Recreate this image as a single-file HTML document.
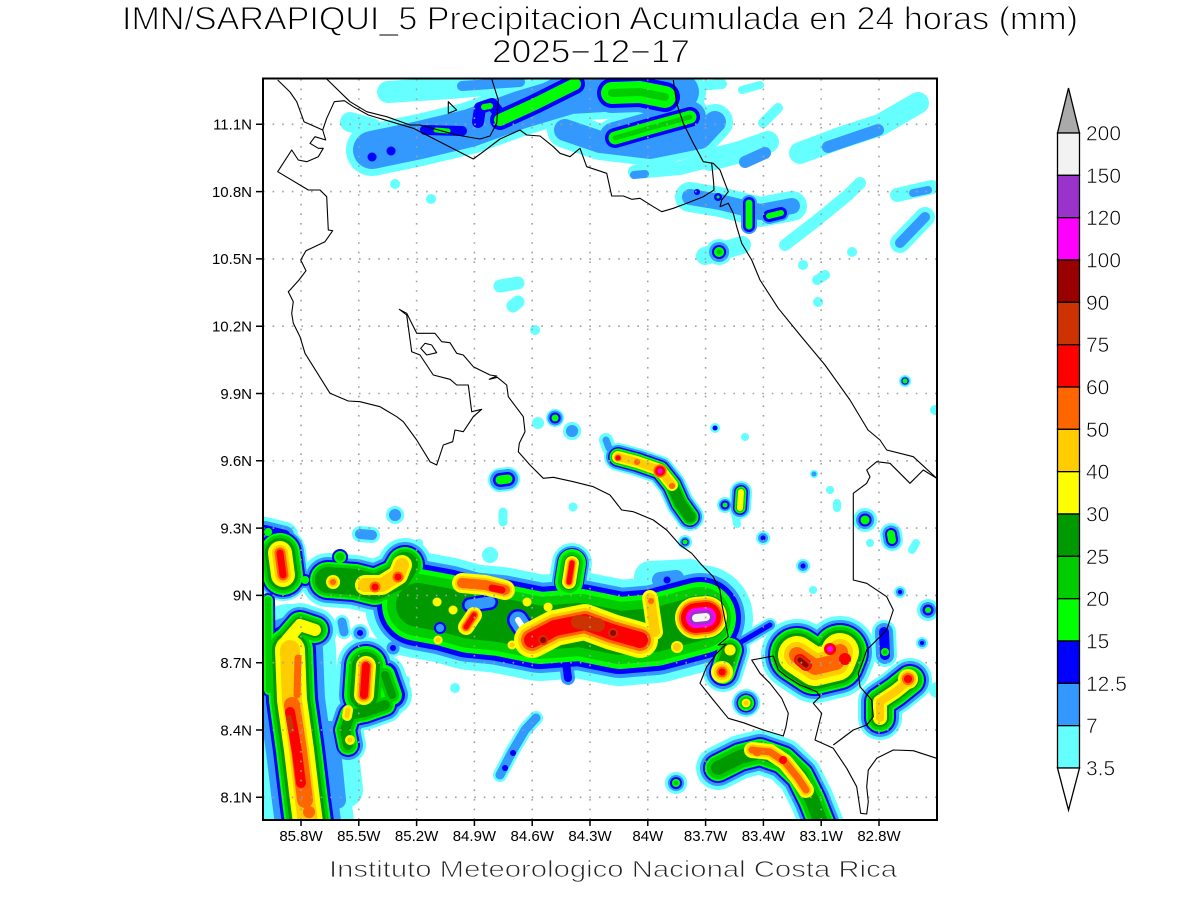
<!DOCTYPE html>
<html><head><meta charset="utf-8"><style>
html,body{margin:0;padding:0;background:#fff;}
svg{display:block;font-family:"Liberation Sans",sans-serif;}
</style></head><body>
<svg width="1200" height="900" viewBox="0 0 1200 900" xmlns="http://www.w3.org/2000/svg">
<rect width="1200" height="900" fill="#fff"/>
<defs>
<clipPath id="cp"><rect x="263" y="79" width="674" height="741"/></clipPath>
<path id="n1" d="M372 150L420 140L470 128L520 110L570 95L620 92L680 92"/>
<path id="n2" d="M388 92L450 88L505 83"/>
<path id="n3" d="M462 86L520 82"/>
<path id="n4" d="M350 122L372 128"/>
<path id="n5" d="M372 157h.1M391 151h.1"/>
<path id="n6" d="M478 122L480 108L492 104L498 112"/>
<path id="n6g" d="M484 107L490 106"/>
<path id="n7" d="M425 130L462 131"/>
<path id="n7g" d="M436 130L448 131"/>
<path id="n8" d="M500 120L535 104L575 84"/>
<path id="n9" d="M612 93L640 92L665 97"/>
<path id="n10" d="M615 138L650 128L690 117"/>
<path id="n11" d="M565 130L600 142L650 148L700 138L715 122"/>
<path id="n12" d="M698 86L722 84"/>
<path id="n13" d="M742 90L760 85"/>
<path id="s1" d="M635 172L680 168L720 158L745 152"/>
<path id="s1b" d="M634 175L645 174"/>
<path id="s2" d="M710 160L740 152L768 142"/>
<path id="s2b" d="M745 162L765 153"/>
<path id="s3" d="M763 123L778 108"/>
<path id="s4" d="M800 153L840 138L880 125L918 103"/>
<path id="s4b" d="M828 147L878 130"/>
<path id="s5" d="M785 245L815 222L848 195L860 183"/>
<path id="s6" d="M690 197L720 202L760 212L792 206"/>
<path id="s6c1" d="M697 192h.1"/>
<path id="s6c2" d="M718 197h.1"/>
<path id="s7" d="M749 203L749 226"/>
<path id="s8" d="M769 216L781 213"/>
<path id="s9" d="M719 252h.1"/>
<path id="s9b" d="M705 256L742 245"/>
<path id="s10" d="M897 195L932 187"/>
<path id="s10b" d="M913 193L928 190"/>
<path id="s11" d="M900 243L925 217"/>
<path id="sm" d="M852 252h.1M817 280L825 275M818 302h.1M803 265h.1M395 184h.1M431 199h.1M535 330h.1"/>
<path id="sm2" d="M500 286L518 283M513 306L518 302"/>
<path id="c1" d="M555 418h.1"/>
<path id="c2" d="M538 423h.1"/>
<path id="c3" d="M572 431h.1"/>
<path id="c4" d="M606 440L609 448"/>
<path id="c5" d="M500 480L508 479"/>
<path id="c6" d="M395 515h.1"/>
<path id="c7" d="M503 512L503 522M573 507h.1"/>
<path id="c8" d="M715 428h.1"/>
<path id="c9" d="M745 437h.1M830 490h.1M837 503L837 508M912 550L916 543M870 543h.1M813 590h.1M419 543h.1M406 680h.1"/>
<path id="c10" d="M905 381h.1"/>
<path id="c11" d="M935 410h.1"/>
<path id="c12" d="M814 474h.1"/>
<path id="c21" d="M900 592h.1M922 643h.1"/>
<path id="ch" d="M618 457L637 462L660 470L672 485L680 503L690 517"/>
<path id="chy" d="M618 457L637 462L660 470L672 485"/>
<path id="chr" d="M618 458h.1"/>
<path id="cho" d="M637 462h.1M672 486h.1"/>
<path id="chm" d="M660 471h.1"/>
<path id="c13" d="M741 492L740 508"/>
<path id="c13b" d="M725 505h.1"/>
<path id="c13c" d="M735 512L737 524"/>
<path id="c14" d="M685 542h.1"/>
<path id="c15" d="M650 577L690 575"/>
<path id="c15b" d="M660 580L676 578"/>
<path id="c15c" d="M667 580h.1"/>
<path id="c16" d="M763 538h.1M803 566h.1"/>
<path id="c18" d="M865 520h.1"/>
<path id="c19" d="M891 534L892 540"/>
<path id="c20" d="M928 610h.1"/>
<path id="c22" d="M884 632L885 655"/>
<path id="c22g" d="M885 652h.1"/>
<path id="w0" d="M265 530L285 535"/>
<path id="w0g" d="M268 532h.1"/>
<path id="w0c" d="M360 534L372 535"/>
<path id="w1" d="M280 553L283 575"/>
<path id="w1c" d="M305 580h.1"/>
<path id="w1b" d="M328 580L355 582L375 587L398 577L405 565"/>
<path id="w1y" d="M365 585L382 585L398 575L402 565"/>
<path id="w1y2" d="M333 582h.1"/>
<path id="w1r" d="M375 587h.1M398 577h.1"/>
<path id="w1t" d="M340 557h.1"/>
<path id="w2a" d="M315 630L300 625L287 640"/>
<path id="w2b" d="M290 650L292 700L299 750L305 800L309 830"/>
<path id="w2e" d="M268 600L269 690"/>
<path id="w2l" d="M292 705L299 750L305 800"/>
<path id="w2r" d="M290 712L297 752L301 783"/>
<path id="w2d" d="M289 718L291 730"/>
<path id="w2o" d="M298 658L297 695"/>
<path id="w2o2" d="M309 812h.1"/>
<path id="w3" d="M366 666L364 695"/>
<path id="w3e" d="M385 675L392 695"/>
<path id="w3b" d="M385 705L365 712L350 715L345 730L348 745"/>
<path id="w3y" d="M348 710L347 716M350 740h.1"/>
<path id="wc" d="M335 700L345 790"/>
<path id="wcb" d="M330 730L337 800"/>
<path id="wd1" d="M342 622L344 632"/>
<path id="wd2" d="M360 633h.1M393 648h.1"/>
<path id="wcy" d="M455 688h.1M345 775h.1"/>
<path id="m1" d="M418 605L445 610L470 617L500 620L540 628L580 625L620 633L655 630L685 622L700 618"/>
<path id="m1c" d="M490 555h.1"/>
<path id="h1" d="M470 605L490 602"/>
<path id="h2" d="M518 620L522 626"/>
<path id="h3" d="M440 628h.1"/>
<path id="h5" d="M822 669h.1"/>
<path id="y1" d="M532 640L555 628L585 622L612 632L640 640"/>
<path id="y1c" d="M578 622L598 625"/>
<path id="y1d" d="M613 633h.1M543 640h.1"/>
<path id="y2" d="M462 583L485 585L505 590"/>
<path id="y2r" d="M492 588L502 590"/>
<path id="y3" d="M569 582L572 563"/>
<path id="y4" d="M466 627L474 615"/>
<path id="y5" d="M650 598L655 632"/>
<path id="y5o" d="M651 601h.1"/>
<path id="y6" d="M437 602h.1M453 610h.1M438 640h.1M512 645h.1M548 607h.1M527 602h.1"/>
<path id="y6b" d="M438 640h.1M512 645h.1"/>
<path id="y7" d="M677 647h.1"/>
<path id="P" d="M696 618L706 617"/>
<path id="tg" d="M565 655L568 678"/>
<path id="R3" d="M730 650L723 672"/>
<path id="R3y" d="M722 672h.1"/>
<path id="R3y2" d="M730 650h.1"/>
<path id="R4" d="M746 703h.1"/>
<path id="R5" d="M736 645L770 625"/>
<path id="R1" d="M797 655L815 667L836 662L840 652"/>
<path id="R1r" d="M800 660L806 665M845 659h.1M830 649h.1"/>
<path id="R1d" d="M800 660L806 665"/>
<path id="R1m" d="M830 649h.1"/>
<path id="R2" d="M910 680L895 692L880 702L880 718"/>
<path id="R2r" d="M908 679h.1"/>
<path id="R2e" d="M937 690h.1"/>
<path id="b1" d="M718 768L740 757L760 752L783 760L800 776L812 800L822 825"/>
<path id="b1y" d="M752 750L770 752L785 762L798 778L806 790"/>
<path id="b1r" d="M783 760h.1"/>
<path id="b1o" d="M757 752h.1"/>
<path id="b2" d="M676 783h.1"/>
<path id="l1" d="M500 775L512 752L525 730L536 718"/>
<path id="l1b" d="M505 768h.1M513 753h.1"/>
</defs>

<g clip-path="url(#cp)" fill="none" stroke-linecap="round" stroke-linejoin="round">
<!-- L0 cyan -->
<g stroke="#66ffff">
<use href="#n1" stroke-width="52"/><use href="#n2" stroke-width="22"/><use href="#n3" stroke-width="16"/><use href="#n4" stroke-width="20"/>
<use href="#n10" stroke-width="40"/><use href="#n11" stroke-width="36"/><use href="#n12" stroke-width="10"/><use href="#n13" stroke-width="8"/>
<use href="#s1" stroke-width="14"/><use href="#s2" stroke-width="22"/><use href="#s3" stroke-width="10"/><use href="#s4" stroke-width="22"/>
<use href="#s5" stroke-width="12"/><use href="#s6" stroke-width="30"/><use href="#s9" stroke-width="26"/><use href="#s9b" stroke-width="18"/>
<use href="#s10" stroke-width="14"/><use href="#s11" stroke-width="20"/><use href="#sm" stroke-width="10"/><use href="#sm2" stroke-width="13"/>
<use href="#c1" stroke-width="18"/><use href="#c2" stroke-width="12"/><use href="#c3" stroke-width="18"/><use href="#c4" stroke-width="14"/>
<use href="#c5" stroke-width="24"/><use href="#c6" stroke-width="18"/><use href="#c7" stroke-width="9"/><use href="#c8" stroke-width="10"/>
<use href="#c9" stroke-width="8"/><use href="#c10" stroke-width="12"/><use href="#c11" stroke-width="10"/><use href="#c12" stroke-width="8"/>
<use href="#c21" stroke-width="12"/><use href="#ch" stroke-width="28"/><use href="#c13" stroke-width="22"/><use href="#c13b" stroke-width="16"/>
<use href="#c13c" stroke-width="8"/><use href="#c14" stroke-width="14"/><use href="#c15" stroke-width="32"/><use href="#c16" stroke-width="14"/>
<use href="#c18" stroke-width="24"/><use href="#c19" stroke-width="22"/><use href="#c20" stroke-width="22"/><use href="#c22" stroke-width="24"/>
<use href="#w0" stroke-width="26"/><use href="#w0c" stroke-width="16"/><use href="#w1" stroke-width="52"/><use href="#w1b" stroke-width="54"/>
<use href="#w2a" stroke-width="44"/><use href="#w2b" stroke-width="92"/><use href="#w3" stroke-width="58"/><use href="#w3e" stroke-width="40"/>
<use href="#w3b" stroke-width="36"/><use href="#wc" stroke-width="36"/><use href="#wd1" stroke-width="14"/><use href="#wd2" stroke-width="18"/>
<use href="#wcy" stroke-width="10"/><use href="#m1" stroke-width="106"/><use href="#m1c" stroke-width="16"/><use href="#y3" stroke-width="40"/>
<use href="#P" stroke-width="70"/><use href="#R3" stroke-width="40"/><use href="#R4" stroke-width="28"/><use href="#R5" stroke-width="14"/>
<use href="#R1" stroke-width="72"/><use href="#R2" stroke-width="44"/><use href="#R2e" stroke-width="16"/><use href="#b1" stroke-width="44"/>
<use href="#b2" stroke-width="22"/><use href="#l1" stroke-width="14"/>
</g>
<!-- L1 light blue -->
<g stroke="#3399ff">
<use href="#n1" stroke-width="38"/><use href="#n3" stroke-width="10"/><use href="#n7" stroke-width="16"/><use href="#n8" stroke-width="30"/>
<use href="#n9" stroke-width="40"/><use href="#n10" stroke-width="32"/><use href="#n11" stroke-width="22"/><use href="#s1b" stroke-width="8"/>
<use href="#s2b" stroke-width="12"/><use href="#s4b" stroke-width="12"/><use href="#s6" stroke-width="16"/><use href="#s7" stroke-width="16"/>
<use href="#s8" stroke-width="16"/><use href="#s9" stroke-width="20"/><use href="#s10b" stroke-width="8"/><use href="#s11" stroke-width="10"/>
<use href="#c1" stroke-width="15"/><use href="#c3" stroke-width="12"/><use href="#c4" stroke-width="7"/><use href="#c5" stroke-width="20"/>
<use href="#c6" stroke-width="12"/><use href="#c10" stroke-width="9"/><use href="#c12" stroke-width="5"/><use href="#c21" stroke-width="8"/>
<use href="#ch" stroke-width="24"/><use href="#c13" stroke-width="18"/><use href="#c13b" stroke-width="12"/><use href="#c14" stroke-width="10"/>
<use href="#c15b" stroke-width="16"/><use href="#c16" stroke-width="10"/><use href="#c18" stroke-width="18"/><use href="#c19" stroke-width="17"/>
<use href="#c20" stroke-width="16"/><use href="#c22" stroke-width="18"/>
<use href="#w0" stroke-width="18"/><use href="#w0c" stroke-width="10"/><use href="#w1" stroke-width="48"/><use href="#w1c" stroke-width="16"/>
<use href="#w1b" stroke-width="46"/><use href="#w2a" stroke-width="36"/><use href="#w2b" stroke-width="66"/><use href="#w3" stroke-width="50"/>
<use href="#w3e" stroke-width="32"/><use href="#w3b" stroke-width="30"/><use href="#wcb" stroke-width="18"/><use href="#wd1" stroke-width="9"/>
<use href="#wd2" stroke-width="13"/><use href="#m1" stroke-width="90"/><use href="#y3" stroke-width="34"/><use href="#tg" stroke-width="14"/>
<use href="#P" stroke-width="62"/><use href="#R3" stroke-width="34"/><use href="#R4" stroke-width="24"/><use href="#R5" stroke-width="10"/>
<use href="#R1" stroke-width="64"/><use href="#R2" stroke-width="38"/><use href="#b1" stroke-width="36"/><use href="#b2" stroke-width="16"/>
<use href="#l1" stroke-width="9"/>
</g>
<!-- L2 blue -->
<g stroke="#0000ff">
<use href="#n5" stroke-width="9"/><use href="#n6" stroke-width="12"/><use href="#n7" stroke-width="10"/><use href="#n8" stroke-width="20"/>
<use href="#n9" stroke-width="30"/><use href="#n10" stroke-width="20"/><use href="#s6c1" stroke-width="6"/><use href="#s6c2" stroke-width="8"/>
<use href="#s7" stroke-width="12"/><use href="#s8" stroke-width="12"/><use href="#s9" stroke-width="14"/>
<use href="#c1" stroke-width="11"/><use href="#c5" stroke-width="14"/><use href="#c8" stroke-width="5"/><use href="#c10" stroke-width="7"/>
<use href="#c21" stroke-width="4"/><use href="#ch" stroke-width="20"/><use href="#c13" stroke-width="14"/><use href="#c13b" stroke-width="9"/>
<use href="#c14" stroke-width="7"/><use href="#c15c" stroke-width="7"/><use href="#c16" stroke-width="5"/><use href="#c18" stroke-width="13"/>
<use href="#c19" stroke-width="12"/><use href="#c20" stroke-width="11"/><use href="#c22" stroke-width="10"/>
<use href="#w0" stroke-width="10"/><use href="#w1" stroke-width="44"/><use href="#w1c" stroke-width="12"/><use href="#w1b" stroke-width="40"/>
<use href="#w1t" stroke-width="16"/><use href="#w2a" stroke-width="30"/><use href="#w2b" stroke-width="52"/><use href="#w2e" stroke-width="14"/><use href="#w3" stroke-width="44"/>
<use href="#w3e" stroke-width="26"/><use href="#w3b" stroke-width="24"/><use href="#wd2" stroke-width="6"/><use href="#m1" stroke-width="82"/>
<use href="#y3" stroke-width="30"/><use href="#tg" stroke-width="8"/><use href="#P" stroke-width="56"/><use href="#R3" stroke-width="28"/>
<use href="#R4" stroke-width="19"/><use href="#R5" stroke-width="5"/><use href="#R1" stroke-width="58"/><use href="#R2" stroke-width="32"/>
<use href="#b1" stroke-width="30"/><use href="#b2" stroke-width="12"/><use href="#l1b" stroke-width="6"/>
</g>
<!-- L3 lime -->
<g stroke="#00ff00">
<use href="#n6g" stroke-width="6"/><use href="#n7g" stroke-width="5"/><use href="#n8" stroke-width="12"/><use href="#n9" stroke-width="22"/>
<use href="#n10" stroke-width="13"/><use href="#s6c2" stroke-width="3"/><use href="#s7" stroke-width="7"/><use href="#s8" stroke-width="6"/>
<use href="#s9" stroke-width="10"/><use href="#c1" stroke-width="7"/><use href="#c5" stroke-width="9"/><use href="#c10" stroke-width="5"/>
<use href="#ch" stroke-width="17"/><use href="#c13" stroke-width="11"/><use href="#c13b" stroke-width="5"/><use href="#c14" stroke-width="5"/>
<use href="#c18" stroke-width="9"/><use href="#c19" stroke-width="8"/><use href="#c20" stroke-width="6"/><use href="#c22g" stroke-width="8"/>
<use href="#w0g" stroke-width="8"/><use href="#w1" stroke-width="40"/><use href="#w1c" stroke-width="8"/><use href="#w1b" stroke-width="36"/>
<use href="#w1t" stroke-width="12"/><use href="#w2a" stroke-width="26"/><use href="#w2b" stroke-width="46"/><use href="#w2e" stroke-width="10"/><use href="#w3" stroke-width="40"/>
<use href="#w3e" stroke-width="20"/><use href="#w3b" stroke-width="20"/><use href="#m1" stroke-width="72"/><use href="#y3" stroke-width="28"/>
<use href="#P" stroke-width="52"/><use href="#R3" stroke-width="24"/><use href="#R4" stroke-width="16"/><use href="#R1" stroke-width="54"/>
<use href="#R2" stroke-width="28"/><use href="#b1" stroke-width="26"/><use href="#b2" stroke-width="8"/>
</g>
<!-- L4 green -->
<g stroke="#00cc00">
<use href="#n9" stroke-width="8"/><use href="#n10" stroke-width="5"/><use href="#s9" stroke-width="5"/><use href="#ch" stroke-width="14"/>
<use href="#c13" stroke-width="8"/><use href="#c22g" stroke-width="4"/><use href="#w1" stroke-width="36"/><use href="#w1t" stroke-width="8"/>
<use href="#w1b" stroke-width="32"/><use href="#w2a" stroke-width="22"/><use href="#w2b" stroke-width="42"/><use href="#w2e" stroke-width="6"/><use href="#w3" stroke-width="34"/>
<use href="#w3e" stroke-width="14"/><use href="#w3b" stroke-width="16"/><use href="#m1" stroke-width="62"/><use href="#y3" stroke-width="22"/>
<use href="#P" stroke-width="48"/><use href="#R3" stroke-width="20"/><use href="#R4" stroke-width="12"/><use href="#R1" stroke-width="50"/>
<use href="#R2" stroke-width="24"/><use href="#b1" stroke-width="22"/><use href="#b2" stroke-width="4"/>
</g>
<!-- L5 dark green -->
<g stroke="#009900">
<use href="#ch" stroke-width="11"/><use href="#w1" stroke-width="30"/><use href="#w1b" stroke-width="26"/><use href="#w2a" stroke-width="16"/>
<use href="#w2b" stroke-width="36"/><use href="#w3" stroke-width="28"/><use href="#w3e" stroke-width="8"/><use href="#w3b" stroke-width="10"/>
<use href="#m1" stroke-width="44"/><use href="#y3" stroke-width="16"/><use href="#P" stroke-width="44"/><use href="#R3" stroke-width="15"/>
<use href="#R4" stroke-width="10"/><use href="#R1" stroke-width="44"/><use href="#R2" stroke-width="18"/><use href="#b1" stroke-width="14"/>
</g>
<!-- holes -->
<use href="#h1" stroke="#0000ff" stroke-width="16"/><use href="#h1" stroke="#3399ff" stroke-width="11"/>
<use href="#h2" stroke="#0000ff" stroke-width="22"/><use href="#h2" stroke="#3399ff" stroke-width="17"/><use href="#h2" stroke="#ffffff" stroke-width="6"/>
<use href="#h3" stroke="#0000ff" stroke-width="12"/><use href="#h3" stroke="#3399ff" stroke-width="8"/>
<!-- L6 yellow -->
<g stroke="#ffff00">
<use href="#chy" stroke-width="12"/><use href="#c13" stroke-width="6"/><use href="#w1" stroke-width="24"/><use href="#w1y" stroke-width="20"/>
<use href="#w1y2" stroke-width="14"/><use href="#w2a" stroke-width="12"/><use href="#w2b" stroke-width="30"/><use href="#w3" stroke-width="20"/>
<use href="#w3y" stroke-width="10"/><use href="#y1" stroke-width="36"/><use href="#y2" stroke-width="20"/><use href="#y3" stroke-width="14"/>
<use href="#y4" stroke-width="16"/><use href="#y5" stroke-width="16"/><use href="#y6" stroke-width="9"/><use href="#y7" stroke-width="12"/>
<use href="#P" stroke-width="42"/><use href="#R3y" stroke-width="22"/><use href="#R3y2" stroke-width="11"/><use href="#R4" stroke-width="9"/>
<use href="#R1" stroke-width="38"/><use href="#R2" stroke-width="14"/><use href="#R2r" stroke-width="20"/><use href="#b1y" stroke-width="16"/>
</g>
<use href="#h5" stroke="#00cc00" stroke-width="10"/><use href="#h5" stroke="#0000ff" stroke-width="5"/>
<!-- L7 gold -->
<g stroke="#ffcc00">
<use href="#chy" stroke-width="8"/><use href="#chm" stroke-width="14"/><use href="#w1" stroke-width="16"/><use href="#w1y" stroke-width="14"/>
<use href="#w1y2" stroke-width="10"/><use href="#w2b" stroke-width="20"/><use href="#w3" stroke-width="15"/><use href="#w3y" stroke-width="5"/>
<use href="#y1" stroke-width="28"/><use href="#y2" stroke-width="14"/><use href="#y3" stroke-width="10"/><use href="#y4" stroke-width="11"/>
<use href="#y5" stroke-width="10"/><use href="#y6b" stroke-width="5"/><use href="#y7" stroke-width="8"/><use href="#P" stroke-width="38"/>
<use href="#R3y" stroke-width="16"/><use href="#R4" stroke-width="5"/><use href="#R1" stroke-width="26"/><use href="#R2" stroke-width="8"/>
<use href="#R2r" stroke-width="16"/><use href="#b1y" stroke-width="11"/>
</g>
<!-- L8 orange -->
<g stroke="#ff6600">
<use href="#chr" stroke-width="7"/><use href="#cho" stroke-width="6"/><use href="#chm" stroke-width="13"/><use href="#w1" stroke-width="11"/>
<use href="#w1y2" stroke-width="6"/><use href="#w1r" stroke-width="11"/><use href="#w2l" stroke-width="16"/><use href="#w2o" stroke-width="7"/>
<use href="#w2o2" stroke-width="12"/><use href="#w3" stroke-width="11"/><use href="#y1" stroke-width="22"/><use href="#y2" stroke-width="10"/>
<use href="#y3" stroke-width="7"/><use href="#y4" stroke-width="8"/><use href="#y5o" stroke-width="6"/><use href="#P" stroke-width="34"/>
<use href="#R3y" stroke-width="11"/><use href="#R1" stroke-width="16"/><use href="#R2r" stroke-width="12"/><use href="#b1y" stroke-width="7"/>
<use href="#b1o" stroke-width="9"/>
</g>
<!-- L9 red -->
<g stroke="#ff0000">
<use href="#chr" stroke-width="5"/><use href="#chm" stroke-width="10"/><use href="#w1" stroke-width="7"/><use href="#w1r" stroke-width="7"/>
<use href="#w2r" stroke-width="10"/><use href="#w3" stroke-width="8"/><use href="#y1" stroke-width="16"/><use href="#y2r" stroke-width="7"/>
<use href="#y3" stroke-width="5"/><use href="#y4" stroke-width="5"/><use href="#P" stroke-width="30"/><use href="#R3y" stroke-width="7"/>
<use href="#R1r" stroke-width="12"/><use href="#R2r" stroke-width="8"/><use href="#b1r" stroke-width="8"/>
</g>
<g stroke="#cc3300"><use href="#w2d" stroke-width="6"/><use href="#y1c" stroke-width="14"/><use href="#y1d" stroke-width="10"/><use href="#R1d" stroke-width="9"/></g>
<g stroke="#990000"><use href="#y1d" stroke-width="6"/><use href="#R1d" stroke-width="5"/></g>
<g stroke="#ff00ff"><use href="#chm" stroke-width="5"/><use href="#P" stroke-width="20"/><use href="#R1m" stroke-width="6"/></g>
<g stroke="#9933cc"><use href="#P" stroke-width="14"/></g>
<g stroke="#f6f6f6"><use href="#P" stroke-width="8"/></g>

<!-- grid -->
<path d="M301 79V820M358.8 79V820M416.6 79V820M474.4 79V820M532.2 79V820M590 79V820M647.8 79V820M705.6 79V820M763.4 79V820M821.2 79V820M879 79V820M263 124.3H937M263 191.6H937M263 258.9H937M263 326.2H937M263 393.5H937M263 460.8H937M263 528.1H937M263 595.4H937M263 662.7H937M263 730H937M263 797.3H937" stroke="#a0a0a0" stroke-width="1.6" stroke-dasharray="1.6 8" stroke-linecap="butt"/>

<!-- coastlines -->
<g stroke="#000" stroke-width="1.1" stroke-linecap="butt">
<path d="M277.7 80L290 92L296.7 101.7L304 121.7L322.7 130L325.7 140L315 136.7L310 143.3L318.3 148.3L323.3 148.3L318.3 156.7L306.7 161.7L298.3 160L291.7 150L277.7 171.7L308.3 190L320 190L326.7 196.7L328.3 230L332.7 230.7L325 241.7L306 250.7L300.7 260L306 270.7L299 280L290 290L288.3 291.7L293.3 301.7L291.7 313.3L293.3 323.3L300 336.7L305 353.3L330 393.3L348.3 401L360 401.7L380 406.7L396.7 416.7L403.3 421.7L416.7 440L430 461.7L436.7 465L443.3 445L452.7 441.7L455 430L463.3 431.7L473.3 416.7L481.7 409.3L471.7 411.7L468.3 385L456.7 385L450 379.3L433.3 375L420 355L411.7 351.7L406.7 315L399.3 309.3L406.7 313.3L416.7 333.3L435 333.3L441.7 341.7L450 342.7L456.7 353.3L463.3 355L473.3 366.7L490 375L496.7 376L489.3 379.3L497.3 377.3L506.7 385L508.3 396.7L523.3 416.7L525 431.7L519.3 443.3L518.3 451.7L530 465L543.3 478.3L553.3 477.3L573.3 481.7L593.3 486.7L610 495L621.7 510L633.3 511.7L653.3 520L666.7 530L680 545L691.7 553.3L701.7 565L713.3 576.7L720 590L721.7 603.3L728.3 636.7L718.3 645L726 644L716.7 653.3L706.7 666.7L700 683.3L713.3 700L728.3 718.3L743.3 722.7L763.3 730L783.3 736L786 726.7L788.3 713.3L781.7 698.3L770 683.3L760 673.3L751.7 660L773.3 656L778.3 670L786.7 676.7L800 685L808.3 688.3L816.7 691.7L820 696.7L813.3 703.3L821.7 713.3L818.3 726.7L815 740L833.3 748.3L846.7 768.3L856.7 786.7L860.7 813.3L866.7 814L868.3 801.7L866.7 786.7L868.3 770L876.7 758.3L893.3 750L913.3 750.7L936.7 758.3"/>
<path d="M833.3 745L853.3 730L866.7 725L873.3 716.7L871.7 700L860 686.7L858.3 673.3L863.3 660L866.7 650L876.7 640L886.7 630L893.3 610L886.7 596.7L866.7 583.3L853.3 580L853.3 493.3L866.7 483.3L870 476.7L866.7 470L876.7 461.7L890 463.3L910 483.3L923.3 470L936.7 478.3"/>
<path d="M673.3 80L676.7 103.3L683.3 123.3L693.3 143.3L703.3 161.7L713.3 163.3L720 170L725 183.3L728.3 191.7L721.7 200L720 206.7L728.3 203.3L733.3 213.3L736.7 226.7L741.7 243.3L751.7 260L760 280L778.3 308.3L800 335L825 365L850 400L868 430L880 440L886.7 450L913.3 456.7L936.7 478.3"/>
<path d="M711.7 163.3L713.7 183.3L714 190L703.3 196.7L686.7 203.3L673.3 208.3L661.7 211.7L653.3 206.7L640 198.3L631.7 199.3L623.3 196L611.7 196L610 188.3L606.7 173.3L586.7 166.7L580 148.3L570 156.7L560 153.3L553.3 146.7L540 136L526.7 135L520 130L500 139L483.3 151.7L473.3 159L413.3 128.3L368.3 115L353.3 106.7L344.3 100.7L334.3 101.7L326.7 118.3L322.7 130"/>
<path d="M326.7 79L350 101.7L366.7 111.7L386.7 116.7L410 125L420 125L456.7 135L480 139L490 136L496.7 123.3L498.3 100L491.7 79"/>
<path d="M448.3 101.7L456.7 110L448.3 113.3Z"/>
<path d="M420.7 348.3L425 343.3L431.7 345L436.7 352.7L426.7 355Z"/>
</g>
</g>

<!-- frame -->
<rect x="263" y="78.5" width="674" height="741.5" fill="none" stroke="#000" stroke-width="2"/>
<path d="M301 820V826M358.8 820V826M416.6 820V826M474.4 820V826M532.2 820V826M590 820V826M647.8 820V826M705.6 820V826M763.4 820V826M821.2 820V826M879 820V826M256 124.3H263M256 191.6H263M256 258.9H263M256 326.2H263M256 393.5H263M256 460.8H263M256 528.1H263M256 595.4H263M256 662.7H263M256 730H263M256 797.3H263" stroke="#000" stroke-width="1.5"/>

<g font-size="15" fill="#000" text-anchor="end">
<text x="252" y="129.6">11.1N</text><text x="252" y="196.9">10.8N</text><text x="252" y="264.2">10.5N</text><text x="252" y="331.5">10.2N</text>
<text x="252" y="398.8">9.9N</text><text x="252" y="466.1">9.6N</text><text x="252" y="533.4">9.3N</text><text x="252" y="600.7">9N</text>
<text x="252" y="668">8.7N</text><text x="252" y="735.3">8.4N</text><text x="252" y="802.6">8.1N</text>
</g>
<g font-size="15" fill="#000" text-anchor="middle">
<text x="301" y="841">85.8W</text><text x="358.8" y="841">85.5W</text><text x="416.6" y="841">85.2W</text><text x="474.4" y="841">84.9W</text>
<text x="532.2" y="841">84.6W</text><text x="590" y="841">84.3W</text><text x="647.8" y="841">84W</text><text x="705.6" y="841">83.7W</text>
<text x="763.4" y="841">83.4W</text><text x="821.2" y="841">83.1W</text><text x="879" y="841">82.8W</text>
</g>

<g stroke="#fff" stroke-width="1">
<text x="122" y="29.5" font-size="32" fill="#000" textLength="956" lengthAdjust="spacingAndGlyphs">IMN/SARAPIQUI_5 Precipitacion Acumulada en 24 horas (mm)</text>
<text x="492" y="62.5" font-size="32" fill="#000" textLength="198" lengthAdjust="spacingAndGlyphs">2025−12−17</text>
<text x="329" y="877" font-size="23" fill="#222" textLength="568" lengthAdjust="spacingAndGlyphs" stroke-width="0.8">Instituto Meteorologico Nacional Costa Rica</text>
</g>

<!-- colorbar -->
<g stroke="#000" stroke-width="1.3">
<polygon points="1057.5,133 1079.5,133 1068.5,88" fill="#aaaaaa"/>
<rect x="1057.5" y="133" width="22" height="42.33" fill="#f2f2f2"/>
<rect x="1057.5" y="175.33" width="22" height="42.33" fill="#9933cc"/>
<rect x="1057.5" y="217.67" width="22" height="42.33" fill="#ff00ff"/>
<rect x="1057.5" y="260" width="22" height="42.33" fill="#990000"/>
<rect x="1057.5" y="302.33" width="22" height="42.33" fill="#cc3300"/>
<rect x="1057.5" y="344.67" width="22" height="42.33" fill="#ff0000"/>
<rect x="1057.5" y="387" width="22" height="42.33" fill="#ff6600"/>
<rect x="1057.5" y="429.33" width="22" height="42.33" fill="#ffcc00"/>
<rect x="1057.5" y="471.67" width="22" height="42.33" fill="#ffff00"/>
<rect x="1057.5" y="514" width="22" height="42.33" fill="#009900"/>
<rect x="1057.5" y="556.33" width="22" height="42.33" fill="#00cc00"/>
<rect x="1057.5" y="598.67" width="22" height="42.33" fill="#00ff00"/>
<rect x="1057.5" y="641" width="22" height="42.33" fill="#0000ff"/>
<rect x="1057.5" y="683.33" width="22" height="42.33" fill="#3399ff"/>
<rect x="1057.5" y="725.67" width="22" height="42.33" fill="#66ffff"/>
<polygon points="1057.5,768 1079.5,768 1068.5,810" fill="#ffffff"/>
</g>
<g font-size="21" fill="#000" stroke="#fff" stroke-width="0.6">
<text x="1086" y="140.5">200</text><text x="1086" y="182.8">150</text><text x="1086" y="225.2">120</text><text x="1086" y="267.5">100</text>
<text x="1086" y="309.8">90</text><text x="1086" y="352.2">75</text><text x="1086" y="394.5">60</text><text x="1086" y="436.8">50</text>
<text x="1086" y="479.2">40</text><text x="1086" y="521.5">30</text><text x="1086" y="563.8">25</text><text x="1086" y="606.2">20</text>
<text x="1086" y="648.5">15</text><text x="1086" y="690.8">12.5</text><text x="1086" y="733.2">7</text><text x="1086" y="775.5">3.5</text>
</g>
</svg>
</body></html>
